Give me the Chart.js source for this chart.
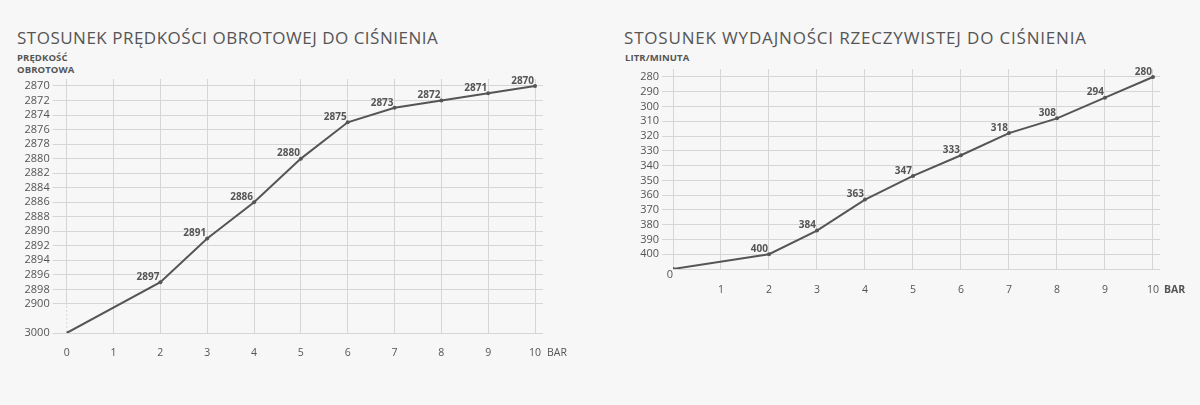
<!DOCTYPE html>
<html>
<head>
<meta charset="utf-8">
<script src="https://cdn.jsdelivr.net/npm/chart.js@4.4.0/dist/chart.umd.min.js"></script>
<style>
    body { margin: 0; width: 1200px; height: 405px; overflow: hidden; position: relative; background: #f7f7f7; font-family: 'Open Sans', sans-serif; color: #555; }
    .title { position: absolute; top: 28px; font-size: 17px; line-height: 20px; white-space: nowrap; }
    .ytitle { position: absolute; top: 52px; font-size: 9.5px; line-height: 12px; font-weight: 700; letter-spacing: 0.1px; }
    canvas { position: absolute; top: 0; }
</style>
</head>
<body>
<div class="title" style="left:17px; letter-spacing:0.5px">STOSUNEK PRĘDKOŚCI OBROTOWEJ DO CIŚNIENIA</div>
<div class="ytitle" style="left:17px">PRĘDKOŚĆ<br>OBROTOWA</div>
<div class="title" style="left:624px; letter-spacing:0.82px">STOSUNEK WYDAJNOŚCI RZECZYWISTEJ DO CIŚNIENIA</div>
<div class="ytitle" style="left:625px">LITR/MINUTA</div>

<canvas id="speedChart" width="600" height="405" style="left:0"></canvas>
<canvas id="flowChart" width="600" height="405" style="left:600px"></canvas>

<script>
// -------------------------    Data    -------------------------

// pressure (bar) of every measured point
var pressure = [0, 2, 3, 4, 5, 6, 7, 8, 9, 10];

// rotational speed for each pressure
var speedValues = [3000, 2897, 2891, 2886, 2880, 2875, 2873, 2872, 2871, 2870];

// real output (l/min) for each pressure
var flowValues = [0, 400, 384, 363, 347, 333, 318, 308, 294, 280];

// tick labels
var barTicks = [0, 1, 2, 3, 4, 5, 6, 7, 8, 9, 10];
var speedTicks = [2870, 2872, 2874, 2876, 2878, 2880, 2882, 2884, 2886, 2888, 2890, 2892, 2894, 2896, 2898, 2900, 3000];
var flowTicks = [280, 290, 300, 310, 320, 330, 340, 350, 360, 370, 380, 390, 400];

var gridColor = '#d6d6d6';
var textColor = '#555';
var bgColor = '#f7f7f7';

Chart.defaults.font.family = "'Open Sans', sans-serif";
Chart.defaults.color = textColor;


// -------------------------    Axis break helpers    -------------------------

// speed axis: 2 per row up to 2900, then one jump of two rows to 3000
function speedPos(v) {
    return v <= 2900 ? (v - 2870) / 2 : 15 + (v - 2900) / 50;
}

// flow axis: 10 per row, 0 sits one row below 400
function flowPos(v) {
    return v === 0 ? 13 : (v - 280) / 10;
}


// -------------------------    Plugins    -------------------------

var pointLabels = {
    id: 'pointLabels',
    afterDatasetsDraw(chart) {
        const ctx = chart.ctx;
        const meta = chart.getDatasetMeta(0);
        const raw = chart.options.plugins.pointLabels.values;
        ctx.save();
        ctx.font = "bold 10px 'Open Sans', sans-serif";
        ctx.fillStyle = textColor;
        ctx.textAlign = 'right';
        ctx.textBaseline = 'middle';
        meta.data.forEach((pt, i) => {
            if (i === 0) return;
            ctx.fillText(raw[i], pt.x - 1, pt.y - 5);
        });
        ctx.restore();
    }
};

var axisExtras = {
    id: 'axisExtras',
    beforeDatasetsDraw(chart) {
        const o = chart.options.plugins.axisExtras;
        const ctx = chart.ctx;
        const x = chart.scales.x;
        const y = chart.scales.y;
        ctx.save();
        if (o.breakFrom !== undefined) {
            // dotted piece of the zero line over the axis break
            const x0 = x.getPixelForValue(0);
            const y1 = y.getPixelForValue(o.breakFrom);
            const y2 = y.getPixelForValue(o.breakTo);
            ctx.fillStyle = bgColor;
            ctx.fillRect(x0 - 1.5, y1 + 1, 3, y2 - y1 - 2);
            ctx.strokeStyle = gridColor;
            ctx.lineWidth = 1;
            ctx.setLineDash([2, 2]);
            ctx.beginPath();
            ctx.moveTo(x0, y1 + 2);
            ctx.lineTo(x0, y2 - 2);
            ctx.stroke();
            ctx.setLineDash([]);
        }
        ctx.restore();
    },
    afterDraw(chart) {
        const o = chart.options.plugins.axisExtras;
        const ctx = chart.ctx;
        const area = chart.chartArea;
        ctx.save();
        ctx.fillStyle = textColor;
        ctx.textBaseline = 'middle';
        ctx.textAlign = 'left';
        ctx.font = (o.unitBold ? 'bold ' : '') + "10.5px 'Open Sans', sans-serif";
        ctx.fillText('BAR', area.right + 4, o.unitY);
        if (o.originLabel) {
            ctx.font = "11px 'Open Sans', sans-serif";
            ctx.textAlign = 'center';
            ctx.fillText(o.originLabel, area.left - 3, area.bottom + 6);
        }
        ctx.restore();
    }
};


// -------------------------    Chart Setup    -------------------------

function makeChart(id, cfg) {
    const tickPos = cfg.ticks.map(cfg.pos);
    const yTickPos = cfg.extraGrid !== undefined ? tickPos.concat([cfg.extraGrid]) : tickPos;

    return new Chart(document.getElementById(id).getContext('2d'), {
        type: 'line',
        data: {
            datasets: [{
                data: pressure.map((p, i) => ({ x: p, y: cfg.pos(cfg.values[i]) })),
                borderColor: '#555',
                backgroundColor: '#555',
                borderWidth: 2,
                pointRadius: 2,
                pointBorderWidth: 0,
                tension: 0,
                fill: false
            }]
        },
        options: {
            responsive: false,
            animation: false,
            events: [],
            layout: { padding: { left: 0, right: cfg.padRight, top: cfg.padTop, bottom: 0 } },
            plugins: {
                legend: { display: false },
                tooltip: { enabled: false },
                pointLabels: { values: cfg.values },
                axisExtras: cfg.extras
            },
            scales: {
                x: {
                    type: 'linear',
                    min: 0,
                    max: cfg.xMax,
                    afterBuildTicks: (s) => { s.ticks = barTicks.map(v => ({ value: v })); },
                    afterFit: (s) => { s.height = cfg.xHeight; },
                    ticks: {
                        autoSkip: false,
                        maxRotation: 0,
                        padding: cfg.xPad,
                        font: { size: 10.5 },
                        callback: (v) => (cfg.hideZero && v === 0) ? '' : String(v)
                    },
                    grid: { color: gridColor, lineWidth: 1, drawTicks: false },
                    border: { display: false }
                },
                y: {
                    type: 'linear',
                    reverse: true,
                    min: cfg.yMin,
                    max: cfg.yMax,
                    afterBuildTicks: (s) => { s.ticks = yTickPos.map(v => ({ value: v })); },
                    afterFit: (s) => { s.width = cfg.yWidth; },
                    ticks: {
                        autoSkip: false,
                        padding: 3,
                        font: { size: 11 },
                        callback: (v) => {
                            const i = tickPos.indexOf(v);
                            return i >= 0 ? String(cfg.ticks[i]) : '';
                        }
                    },
                    grid: {
                        color: gridColor,
                        lineWidth: 1,
                        tickLength: cfg.tickLength,
                        tickColor: (c) => (c.tick && tickPos.indexOf(c.tick.value) < 0) ? 'rgba(0,0,0,0)' : gridColor
                    },
                    border: { display: false }
                }
            }
        },
        plugins: [axisExtras, pointLabels]
    });
}

var speedChart = makeChart('speedChart', {
    values: speedValues,
    ticks: speedTicks,
    pos: speedPos,
    xMax: 10.17,
    yMin: -0.48,
    yMax: 17,
    yWidth: 66.7,
    xHeight: 72,
    xPad: 14,
    padTop: 79,
    padRight: 57,
    tickLength: 14,
    hideZero: false,
    extras: { breakFrom: 15, breakTo: 17, unitY: 353, unitBold: false }
});

var flowChart = makeChart('flowChart', {
    values: flowValues,
    ticks: flowTicks,
    pos: flowPos,
    extraGrid: 13,
    xMax: 10.146,
    yMin: -0.54,
    yMax: 13,
    yWidth: 73,
    xHeight: 136,
    xPad: 15,
    padTop: 69,
    padRight: 40,
    tickLength: 11,
    hideZero: true,
    extras: { unitY: 290, unitBold: true, originLabel: String(barTicks[0]) }
});
</script>
</body>
</html>
